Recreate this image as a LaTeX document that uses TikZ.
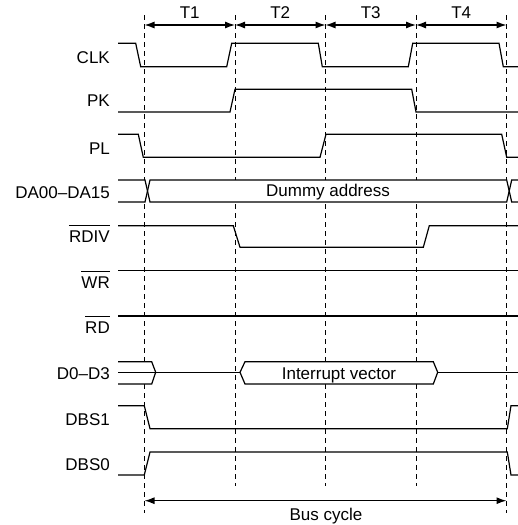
\documentclass[tikz,border=0pt]{standalone}
\usepackage{fontspec}
\setmainfont{Liberation Sans}
\usetikzlibrary{arrows.meta}
\begin{document}
\begin{tikzpicture}[x=1pt,y=-1pt,
  sig/.style={line width=1.2pt, line join=miter},
  gridline/.style={line width=0.9pt, dash pattern=on 5pt off 4pt},
  lbl/.style={anchor=base east, inner sep=0pt, font=\fontsize{17}{20}\selectfont},
  txt/.style={anchor=base, inner sep=0pt, font=\fontsize{17}{20}\selectfont},
  ovl/.style={line width=0.9pt},
  dim/.style={line width=1.2pt, {Latex[length=10pt,width=7pt]}-{Latex[length=10pt,width=7pt]}}]
\useasboundingbox (0,0) rectangle (518,525);

% dashed time marks
\coordinate (ga) at (144.5,15); \coordinate (gae) at (144.5,513);
\coordinate (gb) at (235,15);   \coordinate (gbe) at (235,486);
\coordinate (gc) at (325.5,15); \coordinate (gce) at (325.5,486);
\coordinate (gd) at (416,15);   \coordinate (gde) at (416,486);
\coordinate (ge) at (506.5,15); \coordinate (gee) at (506.5,513);
\draw[gridline] (ga) -- (gae);
\draw[gridline] (gb) -- (gbe);
\draw[gridline] (gc) -- (gce);
\draw[gridline] (gd) -- (gde);
\draw[gridline] (ge) -- (gee);

% top dimension arrows
\coordinate (ta) at (144.5,25); \coordinate (tb) at (235,25);
\coordinate (tc) at (325.5,25); \coordinate (td) at (416,25);
\coordinate (te) at (506.5,25);
\draw[dim] (ta) -- (tb);
\draw[dim] (tb) -- (tc);
\draw[dim] (tc) -- (td);
\draw[dim] (td) -- (te);
\node[txt] (t1) at (189.75,18.3) {T1};
\node[txt] (t2) at (280.25,18.3) {T2};
\node[txt] (t3) at (370.75,18.3) {T3};
\node[txt] (t4) at (461.25,18.3) {T4};

% labels
\node[lbl] (lclk) at (110,63.3) {CLK};
\node[lbl] (lpk) at (110,106.7) {PK};
\node[lbl] (lpl) at (110,154.3) {PL};
\node[lbl] (lda) at (110,198.3) {DA00–DA15};
\node[lbl] (lrdiv) at (110,242.7) {RDIV};
\node[lbl] (lwr) at (110,288.3) {WR};
\node[lbl] (lrd) at (110,333.3) {RD};
\node[lbl] (ld) at (110,379.3) {D0–D3};
\node[lbl] (ldbs1) at (110,425) {DBS1};
\node[lbl] (ldbs0) at (110,470) {DBS0};
\draw[ovl] ([yshift=5pt]lrdiv.north west) -- ([yshift=5pt]lrdiv.north east);
\draw[ovl] ([yshift=4.5pt]lwr.north west) -- ([yshift=4.5pt]lwr.north east);
\draw[ovl] ([yshift=4.5pt]lrd.north west) -- ([yshift=4.5pt]lrd.north east);

% CLK
\draw[sig] (118,43.3) -- (135.7,43.3) -- (140.7,66.7) -- (226.7,66.7) -- (231.7,43.3)
  -- (318.3,43.3) -- (322.3,66.7) -- (408.3,66.7) -- (412.7,43.3) -- (499,43.3)
  -- (503.3,66.7) -- (518,66.7);
% PK
\draw[sig] (118,112) -- (230,112) -- (235,89.3) -- (411.7,89.3) -- (416,112) -- (518,112);
% PL
\draw[sig] (118,134.3) -- (138.3,134.3) -- (143.3,157.3) -- (320,157.3) -- (326,134.3)
  -- (501.7,134.3) -- (506.7,157.3) -- (518,157.3);
% DA00-DA15
\fill[white] (147.5,191) -- (150,180) -- (506.7,180) -- (509.2,191) -- (506.7,202) -- (150,202) -- cycle;
\fill[white] (118,180) rectangle (145,202);
\fill[white] (511.7,180) rectangle (518,202);
\draw[sig] (118,180) -- (145,180) -- (150,202) -- (506.7,202) -- (511.7,180) -- (518,180);
\draw[sig] (118,202) -- (145,202) -- (150,180) -- (506.7,180) -- (511.7,202) -- (518,202);
\node[txt] (dummy) at (328,196) {Dummy address};
% RDIV
\draw[sig] (118,225.7) -- (233.3,225.7) -- (240,247.3) -- (423.3,247.3) -- (429.3,225.7) -- (518,225.7);
% WR, RD
\draw[sig] (118,270.7) -- (518,270.7);
\draw[sig] (118,316) -- (518,316);
% D0-D3
\fill[white] (118,361.7) -- (151.7,361.7) -- (155.7,372.3) -- (151.7,384) -- (118,384) -- cycle;
\draw[sig] (118,361.7) -- (151.7,361.7) -- (155.7,372.3) -- (151.7,384) -- (118,384);
\draw[sig] (118,372.3) -- (240,372.3);
\draw[sig, fill=white] (240,372.3) -- (245,361.7) -- (433.3,361.7) -- (437.7,372.3) -- (433.3,384) -- (245,384) -- cycle;
\draw[sig] (437.7,372.3) -- (518,372.3);
\node[txt] (ivec) at (339,379.3) {Interrupt vector};
% DBS1
\draw[sig] (118,405.7) -- (144.3,405.7) -- (150,428.7) -- (507.3,428.7) -- (511,405.7) -- (518,405.7);
% DBS0
\draw[sig] (118,475) -- (144.3,475) -- (150,452) -- (507.3,452) -- (511,475) -- (518,475);

% bus cycle
\coordinate (ba) at (144.5,500.7); \coordinate (bb) at (506.5,500.7);
\draw[dim] (ba) -- (bb);
\node[txt] (bus) at (326,520) {Bus cycle};
\end{tikzpicture}
\end{document}
